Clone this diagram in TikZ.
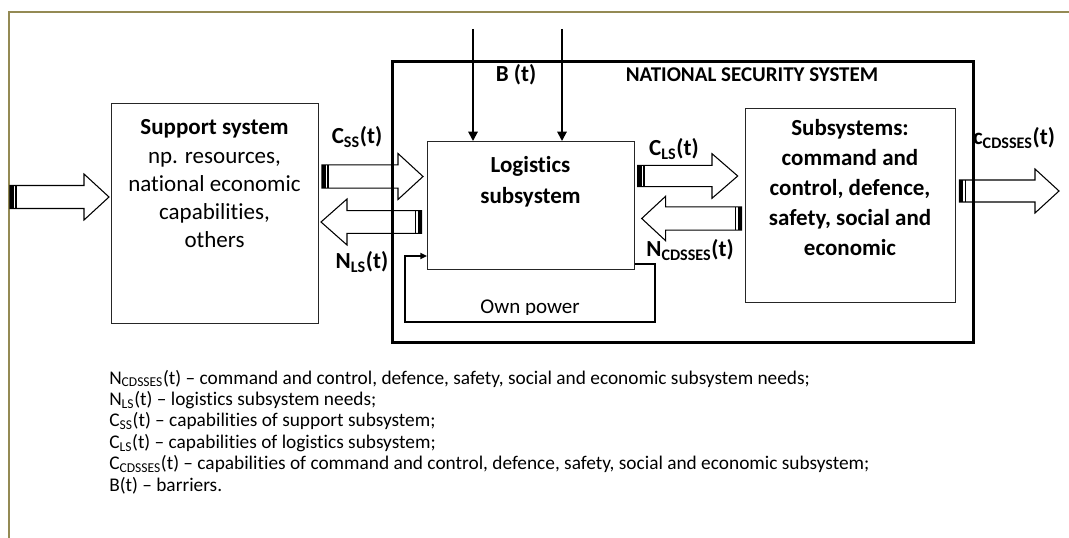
\documentclass[tikz,border=0pt]{standalone}
\usepackage{fontspec}
\setmainfont{Carlito}[Ligatures=NoCommon]
\usetikzlibrary{arrows.meta}
\definecolor{olive}{RGB}{148,138,84}
\newcommand\pxu{0.75pt}
\newcommand\blockarr[7]{%
  \draw[arrowline] (#1,{#3-#4}) -- (#6,{#3-#4}) -- (#6,{#3-#5}) -- (#2,#3) -- (#6,{#3+#5}) -- (#6,{#3+#4}) -- (#1,{#3+#4}) -- cycle;
  \fill (#1,{#3-#4}) rectangle ({#1+#7*4},{#3+#4});
  \fill ({#1+#7*5.3},{#3-#4}) rectangle ({#1+#7*6.8},{#3+#4});
}
\begin{document}
\begin{tikzpicture}[x=0.75pt,y=-0.75pt,
  arrowline/.style={draw=black,line width=0.8pt},
  thinbox/.style={draw=black!85,line width=0.9pt,inner sep=0pt,anchor=north west},
  bigtxt/.style={font=\fontsize{17.25pt}{21.2pt}\selectfont,align=center,inner sep=0pt},
  boldtxt/.style={font=\bfseries\fontsize{17.25pt}{21.2pt}\selectfont,inner sep=0pt},
  legtxt/.style={font=\fontsize{14.5pt}{16pt}\selectfont,inner sep=0pt,anchor=base west},
  barrier/.style={line width=1.4pt,-{Triangle[length=7pt,width=7pt]}},
  loopline/.style={line width=1.8pt}
]
\useasboundingbox (0,0) rectangle (1069,538);
% olive frame
\draw[olive,line width=1.6pt] (9,538) -- (9,12) -- (1069,12);

% boxes
\node[thinbox,minimum width=207*\pxu,minimum height=220*\pxu] (support) at (111,103) {};
\node[thinbox,minimum width=207*\pxu,minimum height=128*\pxu] (logistics) at (427,141) {};
\node[thinbox,minimum width=210*\pxu,minimum height=194*\pxu] (subsys) at (745,108) {};

% block arrows
\blockarr{10}{109}{197}{11.5}{23}{84}{1}
\blockarr{322}{423}{176.5}{11.7}{23}{398}{1}
\blockarr{421.7}{321}{222}{11.3}{23}{347}{-1}
\blockarr{637.7}{737.7}{176}{10.7}{22.3}{712}{1}
\blockarr{741.7}{641.7}{218.5}{11.7}{22.3}{665.7}{-1}
\blockarr{959.3}{1059}{191}{11}{22}{1035}{1}

% national security system box (drawn over arrows)
\node[draw=black,line width=2.2pt,inner sep=0pt,anchor=north west,minimum width=581*\pxu,minimum height=281*\pxu] (nss) at (391,60) {};

% barrier arrows
\coordinate (b1) at (473,29);
\coordinate (b2) at (562,29);
\draw[barrier] (b1) -- (b1 |- logistics.north);
\draw[barrier] (b2) -- (b2 |- logistics.north);

% own power loop
\coordinate (loopstart) at (logistics.east |- 0,264);
\coordinate (loopend) at (logistics.west |- 0,256);
\draw[loopline,-{Triangle[length=5pt,width=4.5pt]}] (loopstart) -- (655,264) -- (655,322) -- (405,322) -- (405,256) -- (loopend);
\begin{scope}
\clip (400,285) rectangle (650,314.5);
\node[font=\fontsize{15.75pt}{18pt}\selectfont,inner sep=0pt,anchor=base] (own) at (530,313) {Own power};
\end{scope}

% texts in boxes
\node[bigtxt] (supporttext) at (214.5,184) {\textbf{Support system}\\np. resources,\\national economic\\capabilities,\\others};
\node[bigtxt,font=\bfseries\fontsize{17.25pt}{23.25pt}\selectfont] (logtext) at (530.5,182) {Logistics\\subsystem};
\node[bigtxt,font=\bfseries\fontsize{17.25pt}{22.5pt}\selectfont] (subtext) at (850,188) {Subsystems:\\command and\\control, defence,\\safety, social and\\economic};

% labels
\node[boldtxt] (bt) at (516,75) {B (t)};
\node[boldtxt,font=\bfseries\fontsize{15.75pt}{18pt}\selectfont] (nsstitle) at (752,75) {NATIONAL SECURITY SYSTEM};
\node[boldtxt] (css) at (357,137) {C\textsubscript{SS}(t)};
\node[boldtxt] (nls) at (362,262) {N\textsubscript{LS}(t)};
\node[boldtxt] (cls) at (674,149) {C\textsubscript{LS}(t)};
\node[boldtxt] (ncd) at (690,250) {N\textsubscript{CDSSES}(t)};
\node[boldtxt] (ccd) at (1014,138) {c\textsubscript{CDSSES}(t)};

% legend
\node[legtxt] (leg1) at (109,384) {N\textsubscript{CDSSES}(t) -- command and control, defence, safety, social and economic subsystem needs;};
\node[legtxt] (leg2) at (109,405.4) {N\textsubscript{LS}(t) -- logistics subsystem needs;};
\node[legtxt] (leg3) at (109,426.8) {C\textsubscript{SS}(t) -- capabilities of support subsystem;};
\node[legtxt] (leg4) at (109,448.2) {C\textsubscript{LS}(t) -- capabilities of logistics subsystem;};
\node[legtxt] (leg5) at (109,469.6) {C\textsubscript{CDSSES}(t) -- capabilities of command and control, defence, safety, social and economic subsystem;};
\node[legtxt] (leg6) at (109,491) {B(t) -- barriers.};
\end{tikzpicture}
\end{document}
